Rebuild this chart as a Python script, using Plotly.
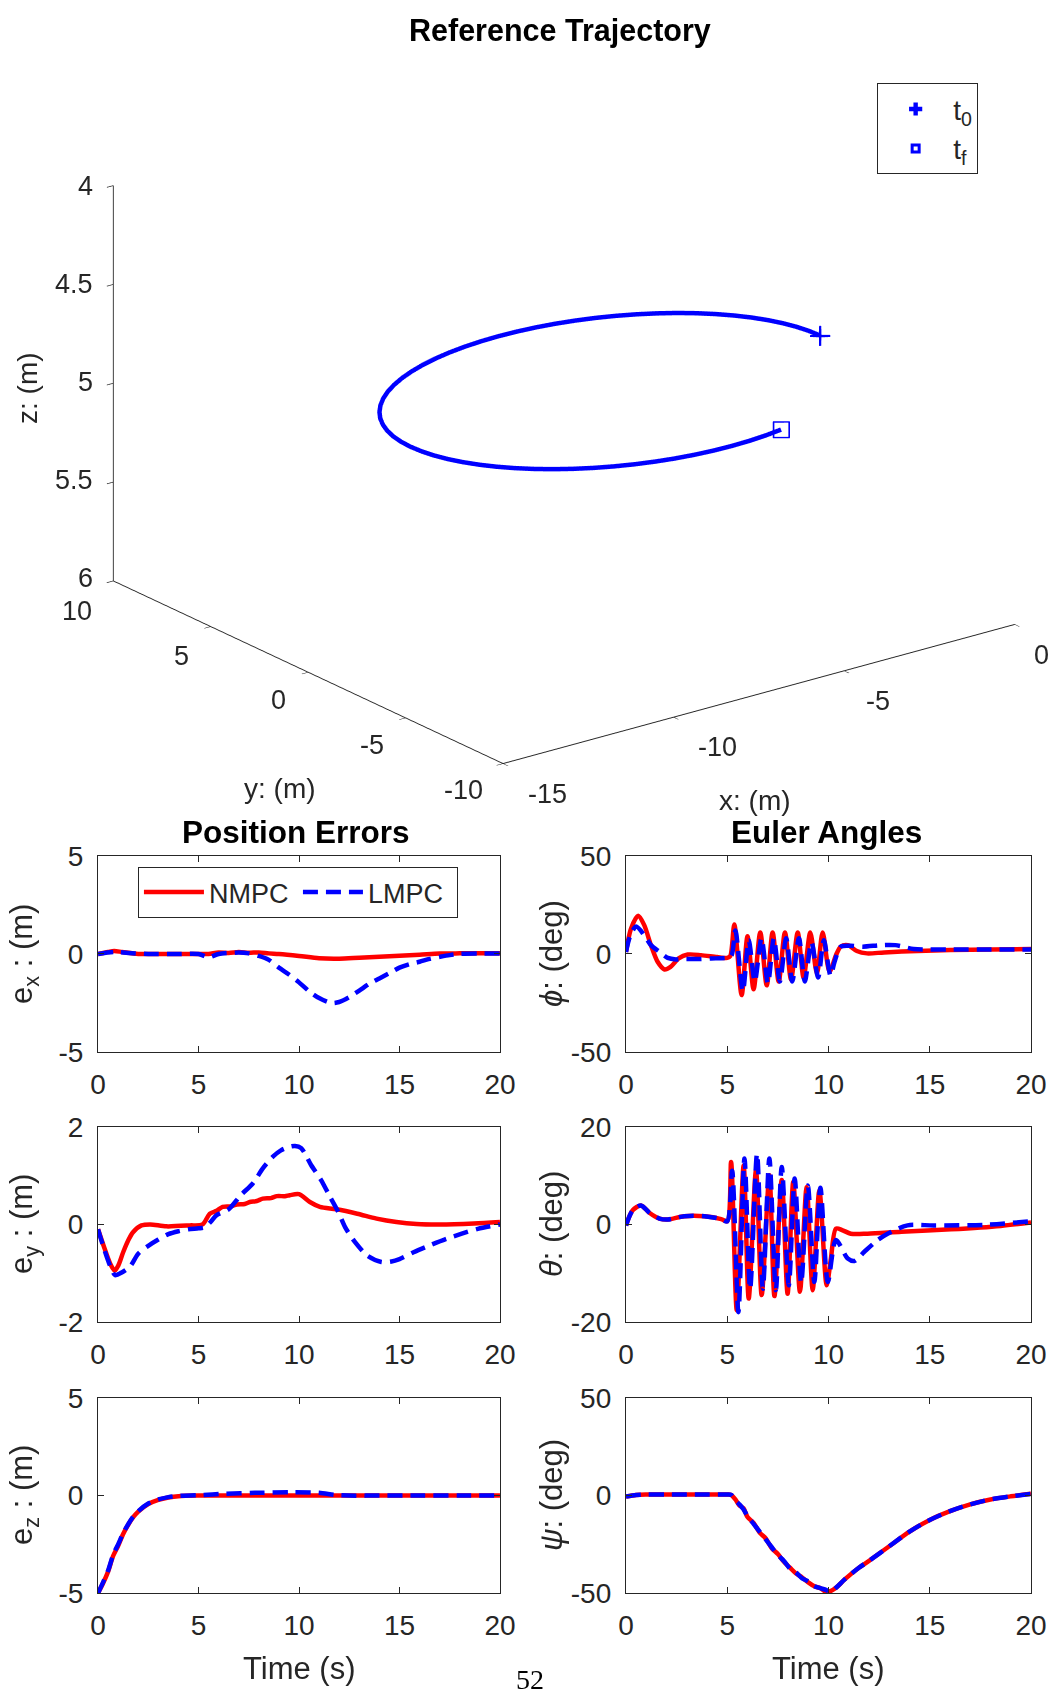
import plotly.graph_objects as go

# ---------------- data ----------------
# Reference trajectory (m), read off the 3D view
traj_x = [0.0, -0.023, -0.091, -0.205, -0.362, -0.562, -0.804, -1.085, -1.404, -1.757,
          -2.143, -2.558, -3.0, -3.464, -3.948, -4.447, -4.958, -5.477, -6.0, -6.523,
          -7.042, -7.553, -8.052, -8.536, -9.0, -9.442, -9.857, -10.243, -10.596, -10.915,
          -11.196, -11.438, -11.638, -11.796, -11.909, -11.977, -12.0, -11.977, -11.909, -11.796,
          -11.638, -11.438, -11.196, -10.915, -10.596, -10.243, -9.857, -9.442, -9.0, -8.536,
          -8.052, -7.553, -7.042, -6.523, -6.0, -5.477, -4.958, -4.447]
traj_y = [0.0, 0.523, 1.042, 1.553, 2.052, 2.536, 3.0, 3.441, 3.857, 4.243,
          4.596, 4.915, 5.196, 5.438, 5.638, 5.796, 5.909, 5.977, 6.0, 5.977,
          5.909, 5.796, 5.638, 5.438, 5.196, 4.915, 4.596, 4.243, 3.857, 3.441,
          3.0, 2.536, 2.052, 1.553, 1.042, 0.523, 0.0, -0.523, -1.042, -1.553,
          -2.052, -2.536, -3.0, -3.441, -3.857, -4.243, -4.596, -4.915, -5.196, -5.438,
          -5.638, -5.796, -5.909, -5.977, -6.0, -5.977, -5.909, -5.796]
traj_z = [5.0, 5.0, 5.0, 5.0, 5.0, 5.0, 5.0, 5.0, 5.0, 5.0,
          5.0, 5.0, 5.0, 5.0, 5.0, 5.0, 5.0, 5.0, 5.0, 5.0,
          5.0, 5.0, 5.0, 5.0, 5.0, 5.0, 5.0, 5.0, 5.0, 5.0,
          5.0, 5.0, 5.0, 5.0, 5.0, 5.0, 5.0, 5.0, 5.0, 5.0,
          5.0, 5.0, 5.0, 5.0, 5.0, 5.0, 5.0, 5.0, 5.0, 5.0,
          5.0, 5.0, 5.0, 5.0, 5.0, 5.0, 5.0, 5.0]
x3_ticks = [-15, -10, -5, 0]
y3_ticks = [-10, -5, 0, 5, 10]
z3_ticks = [4, 4.5, 5, 5.5, 6]

# Position errors
ex_n_t = [0, 0.5, 0.8, 1.2, 2, 3, 4, 5, 5.5, 6, 6.5, 7, 7.5, 8, 8.5, 9, 10, 11, 12, 13, 14, 15, 16, 17, 18, 20]
ex_n_v = [0, 0.1, 0.15, 0.1, 0.0, 0.0, 0.0, 0.0, 0.0, 0.08, 0.05, 0.1, 0.06, 0.08, 0.03, 0.0, -0.1, -0.22, -0.24, -0.19, -0.14, -0.09, -0.04, 0.02, 0.03, 0.03]
ex_l_t = [0, 0.8, 1.5, 2.5, 4, 5, 5.5, 6, 7, 7.5, 8, 8.5, 9, 9.5, 10, 10.5, 11, 11.6, 12, 12.5, 13, 13.5, 14, 14.5, 15, 15.5, 16, 16.5, 17, 17.5, 18, 19, 20]
ex_l_v = [0, 0.1, 0.05, 0.0, 0.0, 0.0, -0.17, 0.0, 0.07, 0.03, -0.1, -0.3, -0.7, -1.05, -1.45, -1.9, -2.25, -2.5, -2.45, -2.2, -1.87, -1.52, -1.25, -0.98, -0.7, -0.52, -0.4, -0.25, -0.15, -0.06, 0.0, 0.02, 0.02]

ey_n_t = [0, 0.33, 0.6, 0.83, 1.0, 1.25, 1.5, 1.74, 2.16, 2.6, 3.4, 4.56, 5.2, 5.56, 5.9, 6.2, 6.6, 6.9, 7.3, 7.55, 7.9, 8.2, 8.6, 8.9, 9.3, 9.54, 10.0, 10.54, 11.04, 11.87, 12.9, 13.86, 14.85, 15.85, 17, 18.7, 20]
ey_n_v = [-0.1, -0.5, -0.8, -0.95, -0.85, -0.57, -0.33, -0.16, -0.02, 0.0, -0.04, -0.02, 0.0, 0.22, 0.28, 0.36, 0.37, 0.41, 0.42, 0.46, 0.48, 0.53, 0.54, 0.58, 0.58, 0.6, 0.62, 0.46, 0.36, 0.31, 0.22, 0.12, 0.05, 0.01, 0.0, 0.02, 0.05]
ey_l_t = [0, 0.3, 0.6, 0.85, 1.2, 1.6, 2.0, 2.5, 3.0, 3.5, 4.0, 4.5, 5.0, 5.3, 5.6, 5.9, 6.5, 7.1, 7.7, 8.2, 8.7, 9.1, 9.5, 9.8, 10.1, 10.6, 11.1, 11.5, 11.95, 12.3, 12.8, 13.4, 14.1, 14.6, 15.0, 15.7, 16.5, 17.3, 18.1, 18.9, 20]
ey_l_v = [-0.1, -0.5, -0.85, -1.04, -0.98, -0.86, -0.6, -0.44, -0.31, -0.2, -0.14, -0.1, -0.08, -0.06, 0.05, 0.19, 0.31, 0.6, 0.84, 1.15, 1.39, 1.52, 1.59, 1.61, 1.57, 1.22, 0.91, 0.6, 0.26, -0.06, -0.37, -0.64, -0.77, -0.76, -0.71, -0.57, -0.43, -0.3, -0.19, -0.09, 0.0]

ez_n_t = [0, 0.25, 0.5, 0.75, 1, 1.25, 1.5, 1.75, 2, 2.5, 3, 3.5, 4, 5, 6, 8, 10, 12, 14, 16, 18, 20]
ez_n_v = [-5, -4.5, -3.9, -3.1, -2.57, -1.97, -1.5, -1.11, -0.82, -0.43, -0.22, -0.1, -0.03, 0.0, 0.0, 0.0, 0.0, 0.0, 0.0, 0.0, 0.0, 0.0]
ez_l_t = [0, 0.25, 0.5, 0.75, 1, 1.25, 1.5, 1.75, 2, 2.5, 3, 3.5, 4, 5, 6.3, 7.8, 9.6, 11.0, 11.8, 12.5, 14, 16, 18, 20]
ez_l_v = [-5, -4.45, -3.85, -3.05, -2.5, -1.93, -1.47, -1.08, -0.8, -0.41, -0.2, -0.08, -0.02, 0.02, 0.09, 0.14, 0.17, 0.14, 0.03, 0.0, 0.0, 0.0, 0.0, 0.0]

# Euler angles (deg)
phi_n_t = [0, 0.25, 0.6, 0.9, 1.23, 1.56, 1.9, 2.2, 2.6, 3.05, 3.7, 4.5, 5.0, 5.15, 5.35, 5.71, 6.0, 6.3, 6.63, 6.95, 7.24, 7.54, 7.85, 8.15, 8.48, 8.77, 9.1, 9.43, 9.71, 10.05, 10.37, 10.6, 10.95, 11.4, 11.9, 12.75, 14.4, 16, 18, 20]
phi_n_v = [1, 13, 19.5, 14.7, 4.5, -4, -7.9, -6.6, -2.3, -0.3, -0.6, -1.6, -2, -1, 15, -21, 9, -18, 11, -16, 11, -14, 11, -13, 11, -12, 11, -10, 11, -9, -0.6, 3.7, 4.5, 1.5, 0.3, 0.8, 1.5, 2, 2.3, 2.5]
phi_l_t = [0, 0.2, 0.5, 0.9, 1.23, 1.65, 2.06, 2.47, 2.88, 3.5, 4.2, 4.95, 5.2, 5.4, 5.77, 6.06, 6.36, 6.69, 7.01, 7.3, 7.6, 7.91, 8.21, 8.54, 8.83, 9.16, 9.49, 9.77, 10.1, 10.3, 10.6, 11.1, 11.7, 12.6, 13.3, 14.2, 15, 16, 18, 20]
phi_l_v = [1, 9, 14, 9.6, 4.5, 1.1, -2, -2.8, -2.6, -2.6, -2.3, -2, -1, 12, -19, 7, -14, 8, -15, 8, -14, 8, -14, 8, -14, 6, -12, 7, -11, -4, 3.7, 4.2, 3.7, 4.5, 4.5, 2.5, 2.3, 2.3, 2.3, 2.3]

theta_n_t = [0, 0.33, 0.74, 1.15, 1.65, 2.06, 2.88, 3.87, 4.7, 5.0, 5.19, 5.47, 5.81, 6.06, 6.42, 6.7, 7.08, 7.33, 7.69, 7.98, 8.26, 8.59, 8.92, 9.22, 9.55, 9.91, 10.12, 10.37, 10.7, 11.1, 11.93, 13.6, 16.05, 18.5, 20]
theta_n_v = [-0.2, 2.9, 3.9, 2.4, 1.2, 1.0, 1.7, 1.7, 1.1, 0.65, 12.8, -17.6, 12.1, -15.2, 11.1, -14.5, 10.1, -14.7, 9.1, -14.2, 8.7, -13.8, 7.7, -13.5, 7.0, -12.5, -7, -0.85, -1.2, -1.9, -1.9, -1.5, -1.0, -0.3, 0.4]
theta_l_t = [0, 0.33, 0.74, 1.15, 1.65, 2.06, 2.88, 3.87, 4.7, 5.0, 5.24, 5.55, 5.85, 6.13, 6.47, 6.76, 7.08, 7.4, 7.69, 8.04, 8.33, 8.65, 8.98, 9.3, 9.6, 9.97, 10.37, 10.95, 11.28, 11.77, 12.43, 12.92, 13.9, 15.2, 17.7, 20]
theta_l_v = [-0.2, 2.9, 3.9, 2.4, 1.2, 1.0, 1.7, 1.7, 1.1, 0.65, 11, -18, 13.5, -13.2, 14.5, -13.2, 13.5, -13.5, 11.8, -12.5, 9.4, -12, 8, -11.8, 7.5, -11.8, -3.2, -7, -7.5, -5.6, -3.2, -1.9, -0.2, -0.2, -0.1, 0.65]

psi_n_t = [0, 0.5, 1, 2, 3, 4, 5, 5.2, 5.4, 5.6, 5.8, 6.0, 6.3, 6.6, 6.9, 7.2, 7.5, 7.8, 8.1, 8.4, 8.7, 9.0, 9.3, 9.6, 9.9, 10.1, 10.4, 10.8, 11.5, 12, 13, 14, 15, 16, 17, 18, 19, 20]
psi_n_v = [-0.5, 0.3, 0.5, 0.5, 0.5, 0.5, 0.5, 0.3, -2, -5, -6.5, -11, -14, -19, -22, -27, -30, -34, -37, -40, -42, -44.5, -46.5, -47.5, -49.5, -49, -47, -43, -37, -33.5, -26, -18.5, -12.5, -8, -4.5, -2, -0.4, 0.9]
psi_l_t = [0, 0.5, 1, 2, 3, 4, 5, 5.2, 5.4, 5.6, 5.8, 6.0, 6.3, 6.6, 6.9, 7.2, 7.5, 7.8, 8.1, 8.4, 8.7, 9.0, 9.3, 9.6, 9.9, 10.1, 10.4, 10.8, 11.5, 12, 13, 14, 15, 16, 17, 18, 19, 20]
psi_l_v = [-0.5, 0.3, 0.5, 0.5, 0.5, 0.5, 0.5, 0.3, -2.5, -4.5, -7, -10.5, -14.5, -18.5, -22.5, -26.5, -30.5, -33.5, -37.5, -39.5, -42.5, -44, -46.5, -47.5, -48.5, -49.5, -47, -43, -37, -33.5, -26, -18.5, -12.5, -8, -4.5, -2, -0.4, 0.9]

time_ticks = [0, 5, 10, 15, 20]

# ---------------- styling ----------------
FONT = "Liberation Sans, Arial, Helvetica, sans-serif"
AX = "#262626"
RED = "#FF0000"
BLUE = "#0000FF"
TICK_FS = 28
LABEL_FS = 31
TITLE_FS = 31.5
W, H = 1053, 1700


def fmt(v):
    return "%g" % v  # ASCII hyphen-minus as in the original


fig = go.Figure()

# 3D trajectory
fig.add_trace(go.Scatter3d(
    x=traj_x, y=traj_y, z=[-v for v in traj_z], mode="lines",
    line=dict(color=BLUE, width=9), showlegend=False, hoverinfo="skip"))
fig.add_trace(go.Scatter3d(
    x=[traj_x[0]], y=[traj_y[0]], z=[-traj_z[0]], mode="markers", name="t<sub>0</sub>",
    marker=dict(symbol="cross", size=11, color=BLUE), legend="legend"))
fig.add_trace(go.Scatter3d(
    x=[traj_x[-1]], y=[traj_y[-1]], z=[-traj_z[-1]], mode="markers", name="t<sub>f</sub>",
    marker=dict(symbol="square-open", size=7, color=BLUE, line=dict(color=BLUE, width=3)),
    legend="legend"))

# 2D subplots
panels = [
    (1, ex_n_t, ex_n_v, ex_l_t, ex_l_v, [-5, 5], [-5, 0, 5]),
    (3, ey_n_t, ey_n_v, ey_l_t, ey_l_v, [-2, 2], [-2, 0, 2]),
    (5, ez_n_t, ez_n_v, ez_l_t, ez_l_v, [-5, 5], [-5, 0, 5]),
    (2, phi_n_t, phi_n_v, phi_l_t, phi_l_v, [-50, 50], [-50, 0, 50]),
    (4, theta_n_t, theta_n_v, theta_l_t, theta_l_v, [-20, 20], [-20, 0, 20]),
    (6, psi_n_t, psi_n_v, psi_l_t, psi_l_v, [-50, 50], [-50, 0, 50]),
]

col_x = {0: [0.0931, 0.4748], 1: [0.5945, 0.9791]}
row_y = {0: [0.3812, 0.4965], 1: [0.2224, 0.3371], 2: [0.0629, 0.1776]}

layout_axes = {}
for idx, nt, nv, lt, lv, yr, yt in panels:
    sfx = "" if idx == 1 else str(idx)
    col = (idx - 1) % 2
    row = (idx - 1) // 2
    first = idx == 1
    fig.add_trace(go.Scatter(
        x=nt, y=nv, mode="lines", name="NMPC", xaxis="x" + sfx, yaxis="y" + sfx,
        line=dict(color=RED, width=4.5, shape="spline", smoothing=0.8),
        showlegend=first, legend="legend2", hoverinfo="skip"))
    fig.add_trace(go.Scatter(
        x=lt, y=lv, mode="lines", name="LMPC", xaxis="x" + sfx, yaxis="y" + sfx,
        line=dict(color=BLUE, width=4.5, dash="15px,8px", shape="spline", smoothing=0.8),
        showlegend=first, legend="legend2", hoverinfo="skip"))
    common = dict(showline=True, linecolor=AX, linewidth=1.3, mirror="ticks",
                  ticks="inside", ticklen=6, tickwidth=1.2, tickcolor=AX,
                  showgrid=False, zeroline=False,
                  tickfont=dict(family=FONT, size=TICK_FS, color=AX))
    layout_axes["xaxis" + sfx] = dict(
        domain=col_x[col], range=[0, 20], tickvals=time_ticks,
        ticktext=[fmt(v) for v in time_ticks], anchor="y" + sfx,
        ticklabelstandoff=7, **common)
    layout_axes["yaxis" + sfx] = dict(
        domain=row_y[row], range=yr, tickvals=yt, ticktext=[fmt(v) for v in yt],
        anchor="x" + sfx, ticklabelstandoff=8, **common)

fig.update_layout(**layout_axes)

axis3d = dict(showgrid=False, showbackground=False, zeroline=False, showline=True,
              linecolor=AX, linewidth=2, ticks="outside", ticklen=8, tickwidth=1.5,
              tickcolor=AX, showspikes=False, showticklabels=False, title=dict(text=""))

fig.update_layout(
    width=W, height=H,
    margin=dict(l=0, r=0, t=0, b=0, autoexpand=False),
    paper_bgcolor="white", plot_bgcolor="white",
    font=dict(family=FONT, color=AX),
    scene=dict(
        domain=dict(x=[0.0, 1.0], y=[0.5235, 1.0]),
        xaxis=dict(range=[-15, 0], tickvals=x3_ticks, **axis3d),
        yaxis=dict(range=[-10, 10], tickvals=y3_ticks, **axis3d),
        zaxis=dict(range=[-6, -4], tickvals=[-v for v in z3_ticks], **axis3d),
        aspectmode="manual", aspectratio=dict(x=1.588, y=1.588, z=1.045),
        camera=dict(eye=dict(x=-0.6962, y=-0.7612, z=0.3927), up=dict(x=0, y=0, z=1),
                    center=dict(x=-0.0736, y=0.0561, z=0),
                    projection=dict(type="orthographic")),
    ),
    legend=dict(x=0.833, y=0.951, xanchor="left", yanchor="top", bgcolor="white",
                bordercolor=AX, borderwidth=1, itemwidth=65,
                font=dict(family=FONT, size=28, color=AX)),
    legend2=dict(x=0.131, y=0.49, xanchor="left", yanchor="top", orientation="h",
                 bgcolor="white", bordercolor=AX, borderwidth=1, itemwidth=60,
                 entrywidth=84,
                 font=dict(family=FONT, size=27, color=AX)),
    showlegend=True,
)

ann = []


def add_text(x, y, text, size=LABEL_FS, bold=False, angle=0, family=FONT, color=AX,
             xanchor="center"):
    ann.append(dict(x=x / W, y=1 - y / H, xref="paper", yref="paper",
                    text=("<b>%s</b>" % text) if bold else text,
                    showarrow=False, textangle=angle, xanchor=xanchor, yanchor="middle",
                    font=dict(family=family, size=size, color=color)))


add_text(560, 30, "Reference Trajectory", size=30.5, bold=True, color="black")
add_text(296, 832, "Position Errors", size=TITLE_FS, bold=True, color="black")
add_text(826, 832, "Euler Angles", size=TITLE_FS, bold=True, color="black")

# 3D tick labels (upright, as in the original view)
z_lab_y = {4: 186, 4.5: 284, 5: 382, 5.5: 480, 6: 578}
for v in z3_ticks:
    add_text(95, z_lab_y[v], fmt(v), size=27, xanchor="right")
y_lab_pos = {10: (77, 611), 5: (181, 656), 0: (278, 700), -5: (372, 745), -10: (463, 790)}
for v in y3_ticks:
    add_text(y_lab_pos[v][0], y_lab_pos[v][1], fmt(v), size=27)
x_lab_pos = {-15: (547, 794), -10: (717, 747), -5: (878, 701), 0: (1041, 655)}
for v in x3_ticks:
    add_text(x_lab_pos[v][0], x_lab_pos[v][1], fmt(v), size=27)

# 3D axis labels
add_text(27, 388, "z: (m)", size=28, angle=-90)
add_text(280, 788, "y: (m)", size=28)
add_text(755, 800, "x: (m)", size=28)
# 2D axis labels
add_text(24, 954, "e<sub>x</sub> : (m)", angle=-90)
add_text(24, 1224, "e<sub>y</sub> : (m)", angle=-90)
add_text(24, 1495, "e<sub>z</sub> : (m)", angle=-90)
add_text(551, 954, "<i>ϕ</i>: (deg)", angle=-90)
add_text(551, 1224, "<i>θ</i>: (deg)", angle=-90)
add_text(551, 1495, "<i>ψ</i>: (deg)", angle=-90)
add_text(299, 1668, "Time (s)")
add_text(828, 1668, "Time (s)")
add_text(530, 1679, "52", size=28, family="Liberation Serif, DejaVu Serif, serif", color="black")
fig.update_layout(annotations=ann)

fig.write_html("out.html")
